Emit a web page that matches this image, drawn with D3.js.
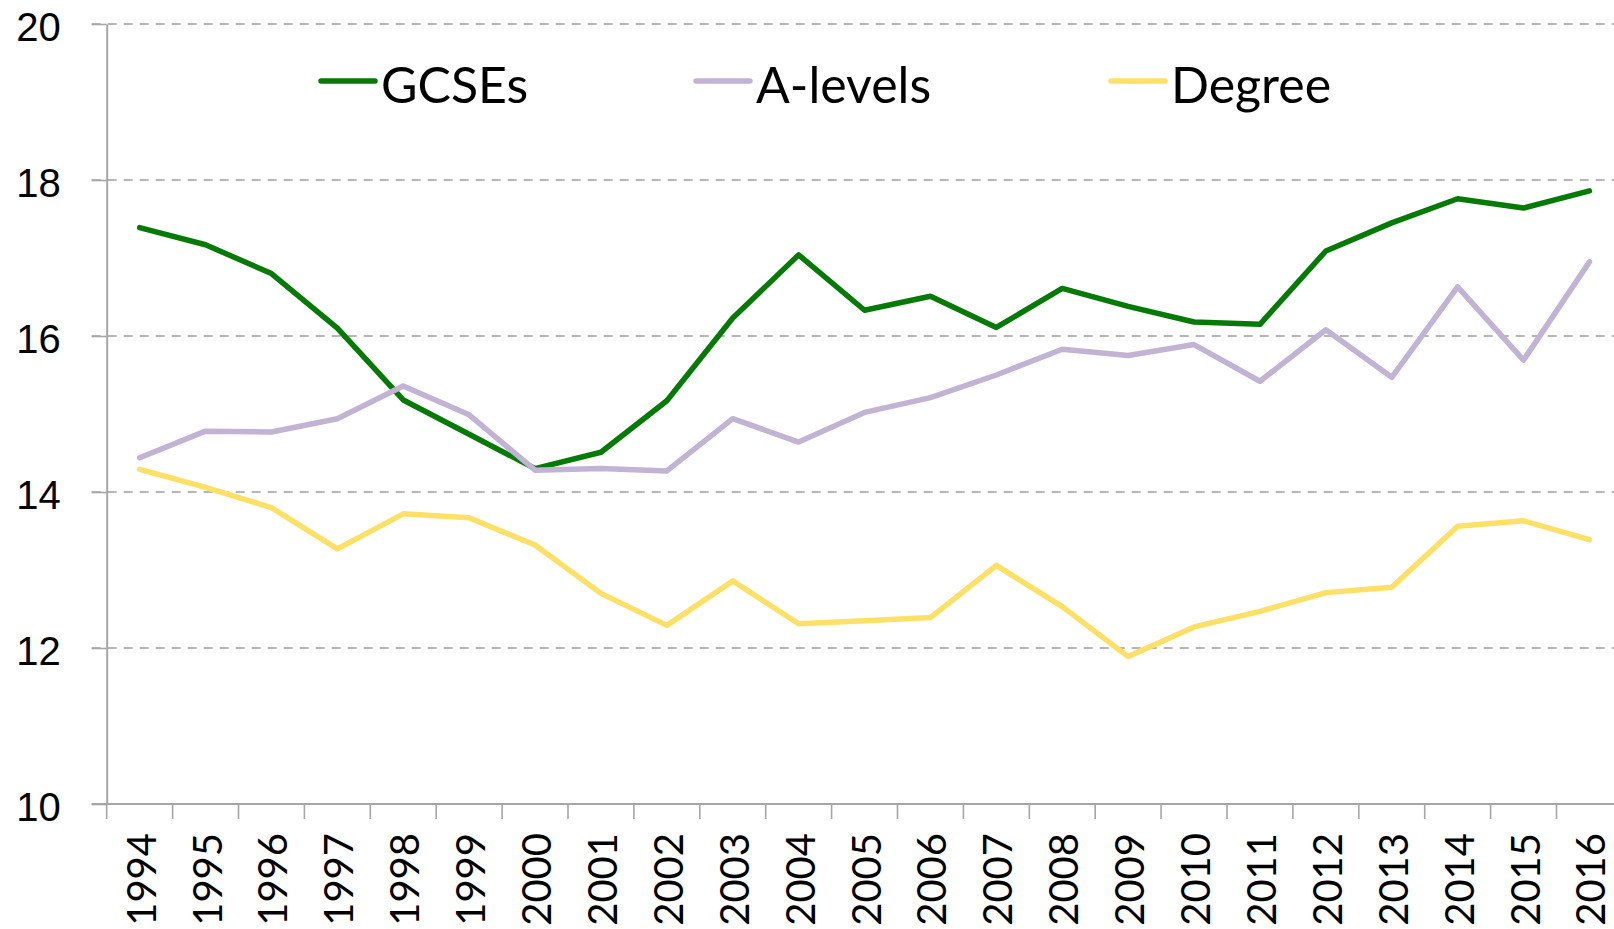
<!DOCTYPE html>
<html>
<head>
<meta charset="utf-8">
<script src="https://cdn.jsdelivr.net/npm/d3@7"></script>
<style>
  body { margin: 0; background: #fff; }
  svg { display: block; font-family: Lato, "Open Sans", sans-serif; }
</style>
</head>
<body>
<div id="chart"></div>
<script>
const years = ["1994", "1995", "1996", "1997", "1998", "1999", "2000", "2001", "2002", "2003", "2004", "2005",
  "2006", "2007", "2008", "2009", "2010", "2011", "2012", "2013", "2014", "2015", "2016"]

const gcses = [17.39, 17.17, 16.80, 16.10, 15.18, 14.74, 14.30, 14.51, 15.17, 16.23, 17.04, 16.33,
  16.51, 16.11, 16.61, 16.38, 16.18, 16.15, 17.09, 17.45, 17.76, 17.64, 17.86]
const aLevels = [14.44, 14.78, 14.77, 14.94, 15.36, 14.99, 14.28, 14.30, 14.27, 14.94, 14.64, 15.02,
  15.21, 15.50, 15.83, 15.75, 15.89, 15.42, 16.08, 15.47, 16.63, 15.69, 16.95]
const degree = [14.29, 14.06, 13.80, 13.27, 13.72, 13.67, 13.32, 12.70, 12.29, 12.86, 12.31, 12.35,
  12.39, 13.06, 12.53, 11.89, 12.27, 12.47, 12.71, 12.78, 13.56, 13.63, 13.39]

const seriesNames = ["GCSEs", "A-levels", "Degree"]
const seriesColors = ["#067a06", "#c2b3d4", "#ffe066"]
const yTicks = [10, 12, 14, 16, 18, 20]

const svgWidth = 1614
const svgHeight = 929
const axisLeftX = 106.7 // position of the y axis
const plotTop = 24
const plotBottom = 804

const svg = d3.select("#chart")
  .append("svg")
  .attr("width", svgWidth)
  .attr("height", svgHeight)

// scales
const x = d3.scaleBand()
  .domain(years)
  .range([axisLeftX, axisLeftX + 65.9 * years.length])
  .padding(0)

const y = d3.scaleLinear()
  .domain([10, 20])
  .range([plotBottom, plotTop])

// GRIDLINES
svg.append("g")
  .selectAll("line")
  .data(yTicks.filter(d => d > 10))
  .enter()
  .append("line")
  .attr("x1", axisLeftX - 15)
  .attr("x2", svgWidth)
  .attr("y1", d => y(d))
  .attr("y2", d => y(d))
  .attr("stroke", "#a0a0a0")
  .attr("stroke-width", 1.6)
  .attr("stroke-dasharray", "9,7")

// Y-AXIS
const yAxis = svg.append("g")
  .attr("transform", "translate(" + axisLeftX + ",0)")
  .call(d3.axisLeft(y).tickValues(yTicks).tickSize(15).tickPadding(31).tickSizeOuter(0))
yAxis.select(".domain").attr("stroke", "#a6a6a6").attr("stroke-width", 2)
yAxis.selectAll(".tick line").attr("stroke", "#a6a6a6").attr("stroke-width", 1.6)
yAxis.selectAll(".tick text")
  .attr("font-size", 40)
  .attr("fill", "#000")
  .attr("dy", "0.42em")

// X-AXIS
svg.append("line")
  .attr("x1", axisLeftX - 15)
  .attr("x2", svgWidth)
  .attr("y1", y(10))
  .attr("y2", y(10))
  .attr("stroke", "#a6a6a6")
  .attr("stroke-width", 2)

const xTicks = svg.append("g")
xTicks.selectAll("line")
  .data(years)
  .enter()
  .append("line")
  .attr("x1", d => x(d))
  .attr("x2", d => x(d))
  .attr("y1", y(10))
  .attr("y2", y(10) + 15)
  .attr("stroke", "#a6a6a6")
  .attr("stroke-width", 1.6)

xTicks.selectAll("text")
  .data(years)
  .enter()
  .append("text")
  .attr("transform", d => "translate(" + (x(d) + x.bandwidth() / 2) + "," + (y(10) + 29) + ") rotate(-90)")
  .attr("text-anchor", "end")
  .attr("dy", "0.4em")
  .attr("font-size", 40)
  .attr("fill", "#000")
  .text(d => d)

// LINES
const allSeries = [gcses, aLevels, degree]
const line = d3.line()
  .x((d, i) => x(years[i]) + x.bandwidth() / 2)
  .y(d => y(d))

svg.append("g")
  .selectAll("path")
  .data(allSeries)
  .enter()
  .append("path")
  .attr("d", d => line(d))
  .attr("fill", "none")
  .attr("stroke", (d, i) => seriesColors[i])
  .attr("stroke-width", 5.5)
  .attr("stroke-linejoin", "round")
  .attr("stroke-linecap", "round")

// LEGEND
const legendX = [321, 696, 1111]
const legend = svg.append("g")
  .selectAll("g")
  .data(seriesNames)
  .enter()
  .append("g")
  .attr("transform", (d, i) => "translate(" + legendX[i] + ",81)")

legend.append("line")
  .attr("x1", 0)
  .attr("x2", 54)
  .attr("stroke", (d, i) => seriesColors[i])
  .attr("stroke-width", 5.5)
  .attr("stroke-linecap", "round")

legend.append("text")
  .attr("x", 60)
  .attr("y", 22)
  .attr("font-size", 50)
  .attr("fill", "#000")
  .text(d => d)
</script>
</body>
</html>
